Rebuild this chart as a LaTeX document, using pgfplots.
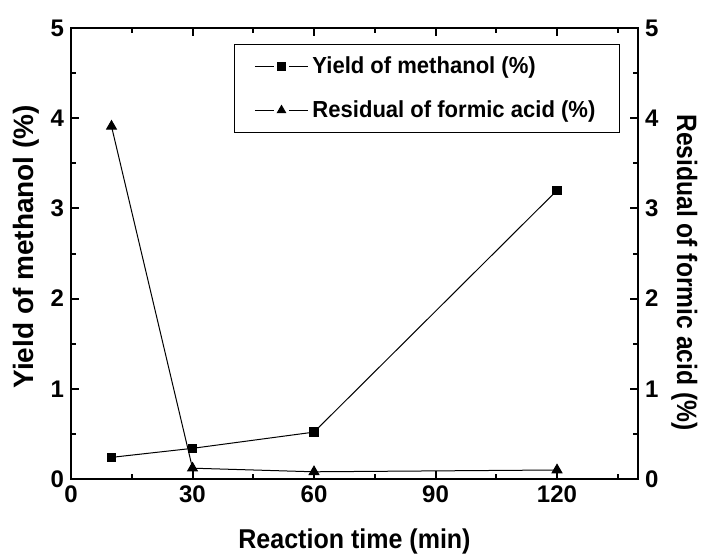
\documentclass[border=0pt]{standalone}
\usepackage{pgfplots}
\pgfplotsset{compat=1.18}
\usepackage{fontspec}
\setmainfont{Liberation Sans}
\begin{document}
\begin{tikzpicture}
\pgfplotsset{
  common/.style={
    width=283.5pt, height=225.5pt, scale only axis,
    xmin=0, xmax=140, ymin=0, ymax=5,
    xtick={0,30,60,90,120},
    minor xtick={15,45,75,105,135},
    ytick={0,1,2,3,4,5},
    minor ytick={0.5,1.5,2.5,3.5,4.5},
    tick align=inside,
    major tick length=4pt, minor tick length=2.5pt,
    every tick/.style={line width=1pt, black},
    every minor tick/.style={line width=1pt, black},
    axis line style={line width=1.3pt},
    tick label style={font=\fontsize{12}{13}\selectfont\bfseries},
    label style={font=\fontsize{14}{16}\selectfont\bfseries},
    /pgf/number format/assume math mode=true,
  }
}
\begin{axis}[common,
  at={(35.5pt,37.5pt)},
  ytick pos=left, xtick pos=both,
  xlabel={\scalebox{0.92}[1]{\fontsize{13.6}{15}\selectfont Reaction time (min)}},
  ylabel={Yield of methanol (\%)},
  xlabel style={at={(axis description cs:0.5,0)}, anchor=base, yshift=-34.5pt},
  ylabel style={at={(axis description cs:-0.067,0.515)}, anchor=base},
  legend style={at={(axis cs:135.5,4.82)}, anchor=north east, draw=black, line width=0.4pt,
    font=\fontsize{11.6}{13}\selectfont\bfseries, row sep=8pt,
    inner xsep=10pt, inner ysep=4pt, cells={anchor=west}},
  legend image code/.code={
    \draw[#1,mark=none] (0pt,0pt) -- (9.5pt,0pt);
    \draw[#1,mark=none] (17pt,0pt) -- (26.5pt,0pt);
    \draw[#1,mark options={scale=0.85}] plot coordinates {(13.25pt,0pt)};},
]
\addplot[black, line width=0.5pt, mark=square*, mark size=2.1pt, mark options={solid}]
  coordinates {(10,0.24) (30,0.34) (60,0.52) (120,3.2)};
\addlegendentry{\scalebox{0.95}[1]{Yield of methanol (\%)}}
\addlegendimage{black, line width=0.5pt, mark=triangle*, mark size=2.8pt}
\addlegendentry{\scalebox{0.95}[1]{Residual of formic acid (\%)}}
\end{axis}
\begin{axis}[common,
  at={(35.5pt,37.5pt)},
  axis x line=none, axis y line*=right,
  ylabel={\scalebox{0.88}[1]{Residual of formic acid (\%)}},
  ylabel style={rotate=180, at={(axis description cs:1.069,0.458)}, anchor=base},
]
\addplot[black, line width=0.5pt, mark=triangle*, mark size=2.8pt]
  coordinates {(10,3.91) (30,0.12) (60,0.08) (120,0.1)};
\end{axis}
\pgfresetboundingbox
\path (0pt,0pt) rectangle (355pt,277pt);
\end{tikzpicture}
\end{document}
